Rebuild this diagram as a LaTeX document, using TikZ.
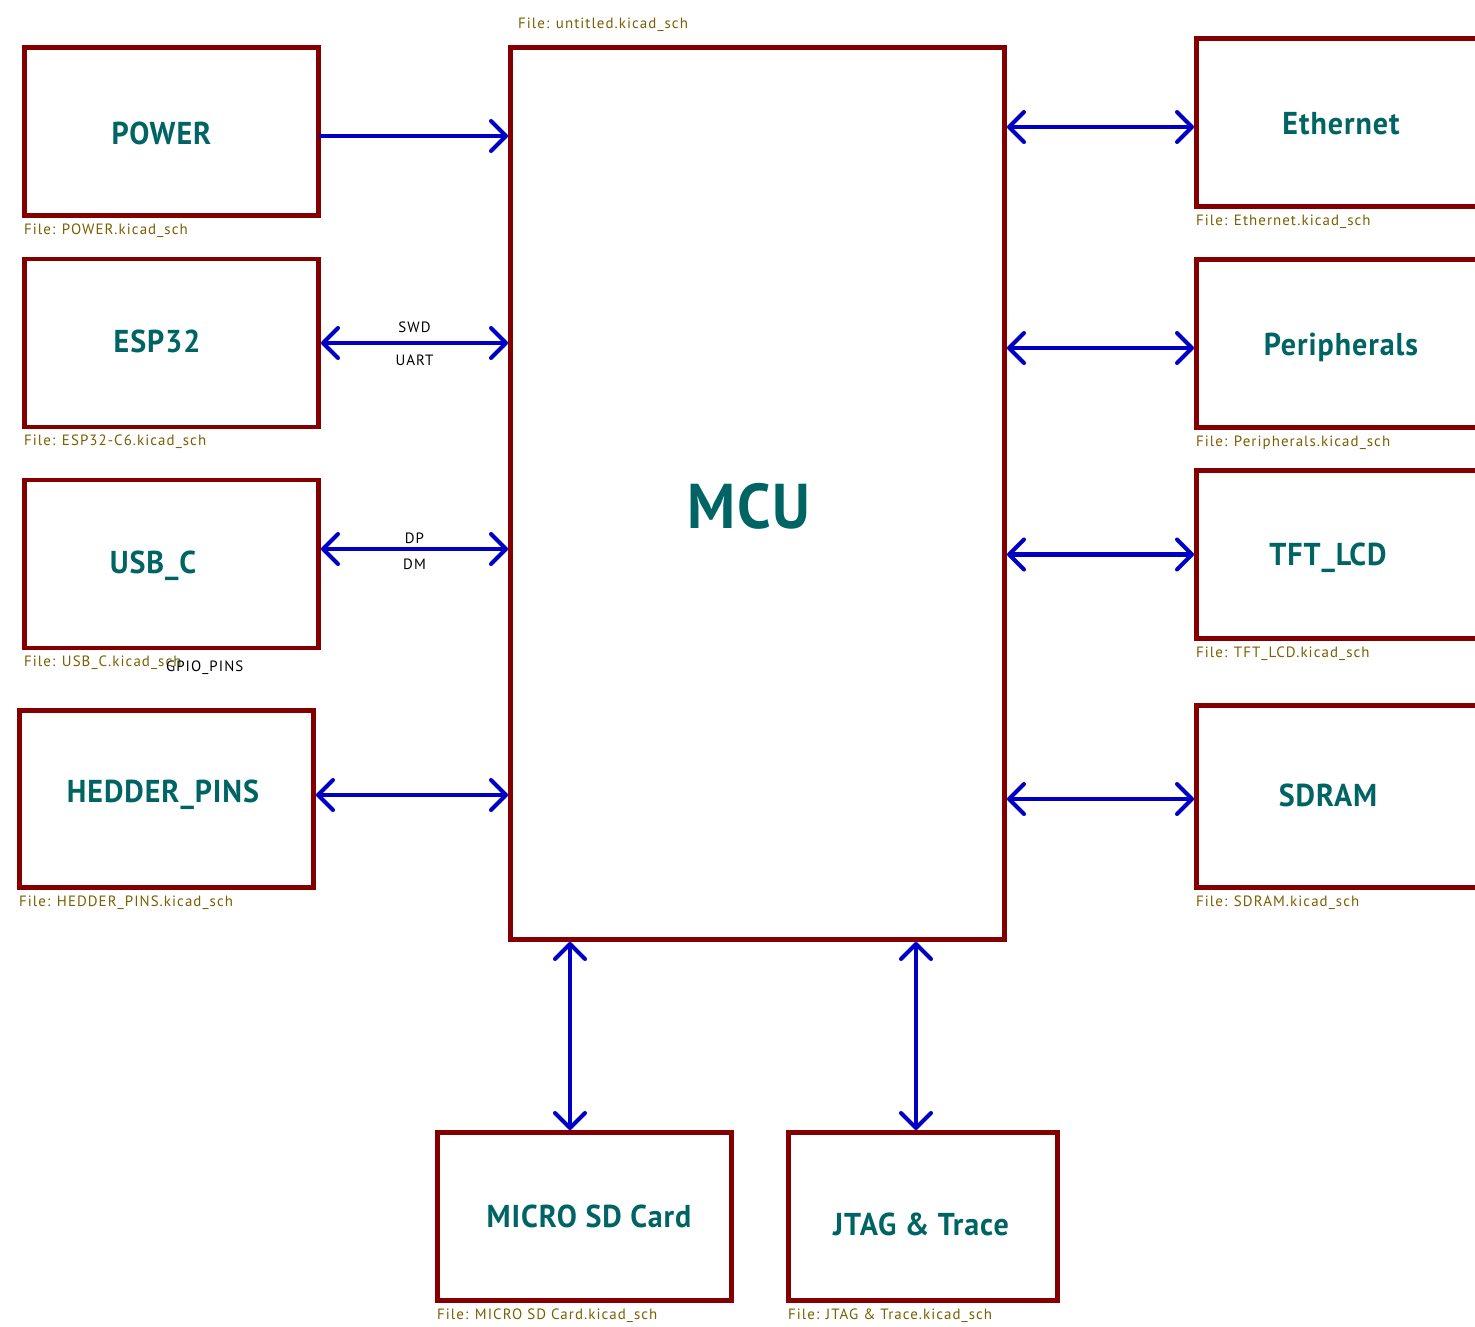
\documentclass[tikz,border=0pt]{standalone}
\usepackage{fontspec}
\setmainfont{PT Sans}
\newfontfamily\kifont[FakeStretch=0.95,LetterSpace=3]{PT Sans}
\newfontfamily\kismall[LetterSpace=7]{PT Sans}
\usetikzlibrary{positioning, arrows.meta}

\definecolor{sheetred}{RGB}{132,0,0}
\definecolor{sheetteal}{RGB}{0,100,100}
\definecolor{fileolive}{RGB}{122,94,0}
\definecolor{busblue}{RGB}{0,0,196}

\tikzset{
  sheet/.style={draw=sheetred, line width=2.8pt, minimum width=5.88cm, minimum height=3.36cm, inner sep=0pt},
  title/.style={text=sheetteal, font=\kifont\bfseries\fontsize{18}{20}\selectfont},
  file/.style={anchor=north west, inner sep=1pt, yshift=-2pt, text=fileolive, font=\kismall\fontsize{8.5}{10}\selectfont},
  sig/.style={font=\kismall\fontsize{8.5}{10}\selectfont, inner sep=1pt},
  bus/.style={draw=busblue, line width=2.3pt, line cap=round},
}

\begin{document}
\begin{tikzpicture}[>={Straight Barb[length=0.3cm,width=0.6cm,round]}, on grid]
  \useasboundingbox (0,0) rectangle (29.5,-26.52);
  \clip (0,0) rectangle (29.5,-26.52);

  % left column
  \node[sheet, label={[title,shift={(-0.2,-0.03)}]center:POWER}] (power) at (3.43,-2.63) {};
  \node[sheet, label={[title,shift={(-0.29,0.04)}]center:ESP32}] (esp) [below=4.23cm of power] {};
  \node[sheet, label={[title,shift={(-0.37,-0.04)}]center:USB\_C}] (usb) [below=4.42cm of esp] {};
  \node[sheet, minimum height=3.54cm, label={[title,shift={(-0.07,0.08)}]center:HEDDER\_PINS}] (hedder) [below left=4.7cm and 0.1cm of usb] {};

  % main sheet
  \node[sheet, minimum width=9.88cm, minimum height=17.84cm,
        label={[title,font=\kifont\bfseries\fontsize{36}{40}\selectfont,shift={(-0.17,-0.25)}]center:MCU}]
        (mcu) [below right=7.24cm and 11.72cm of power] {};

  % right column
  \node[sheet, label={[title,shift={(-0.05,-0.03)}]center:Ethernet}] (eth) [above right=7.42cm and 11.72cm of mcu] {};
  \node[sheet, label={[title,shift={(-0.05,-0.07)}]center:Peripherals}] (per) [below=4.42cm of eth] {};
  \node[sheet, label={[title,shift={(-0.31,-0.07)}]center:TFT\_LCD}] (tft) [below=4.22cm of per] {};
  \node[sheet, minimum height=3.64cm, label={[title,shift={(-0.31,0.03)}]center:SDRAM}] (sdram) [below=4.84cm of tft] {};

  % bottom row
  \node[sheet, label={[title,shift={(0.09,0)}]center:MICRO SD Card}] (sd) [below left=14.46cm and 3.46cm of mcu] {};
  \node[sheet, minimum width=5.38cm, label={[title,shift={(-0.04,-0.15)}]center:JTAG \& Trace}] (jtag) [right=6.77cm of sd] {};

  % file names
  \node[file, anchor=south west, yshift=0pt] at ([shift={(0.16,0.3)}]mcu.north west) {File: untitled.kicad\_sch};
  \node[file] at (power.south west) {File: POWER.kicad\_sch};
  \node[file] at (esp.south west) {File: ESP32-C6.kicad\_sch};
  \node[file] at (usb.south west) {File: USB\_C.kicad\_sch};
  \node[file] at (hedder.south west) {File: HEDDER\_PINS.kicad\_sch};
  \node[file] at (eth.south west) {File: Ethernet.kicad\_sch};
  \node[file] at (per.south west) {File: Peripherals.kicad\_sch};
  \node[file] at (tft.south west) {File: TFT\_LCD.kicad\_sch};
  \node[file] at (sdram.south west) {File: SDRAM.kicad\_sch};
  \node[file] at (sd.south west) {File: MICRO SD Card.kicad\_sch};
  \node[file] at (jtag.south west) {File: JTAG \& Trace.kicad\_sch};

  % buses
  \draw[bus,->] ([yshift=-0.09cm]power.east) -- ([yshift=-0.09cm]power.east -| mcu.west);
  \draw[bus,<->] (esp.east) -- (esp.east -| mcu.west)
        node[sig,midway,yshift=0.32cm] {SWD}
        node[sig,midway,yshift=-0.34cm] {UART};
  \draw[bus,<->] ([yshift=0.3cm]usb.east) -- ([yshift=0.3cm]usb.east -| mcu.west)
        node[sig,midway,yshift=0.22cm] {DP}
        node[sig,midway,yshift=-0.3cm] {DM};
  \node[sig, anchor=west] (gpio) at (3.28,-13.36) {GPIO\_PINS};
  \draw[bus,<->] ([yshift=0.08cm]hedder.east) -- ([yshift=0.08cm]hedder.east -| mcu.west);

  \draw[bus,<->] ([yshift=-0.09cm]eth.west -| mcu.east) -- ([yshift=-0.09cm]eth.west);
  \draw[bus,<->] ([yshift=-0.09cm]per.west -| mcu.east) -- ([yshift=-0.09cm]per.west);
  \draw[bus,<->] (tft.west -| mcu.east) -- (tft.west);
  \draw[bus,<->] ([yshift=-0.05cm]sdram.west -| mcu.east) -- ([yshift=-0.05cm]sdram.west);

  \draw[bus,<->] ([xshift=-0.29cm]sd.north |- mcu.south) -- ([xshift=-0.29cm]sd.north);
  \draw[bus,<->] ([xshift=-0.14cm]jtag.north |- mcu.south) -- ([xshift=-0.14cm]jtag.north);
\end{tikzpicture}
\end{document}
